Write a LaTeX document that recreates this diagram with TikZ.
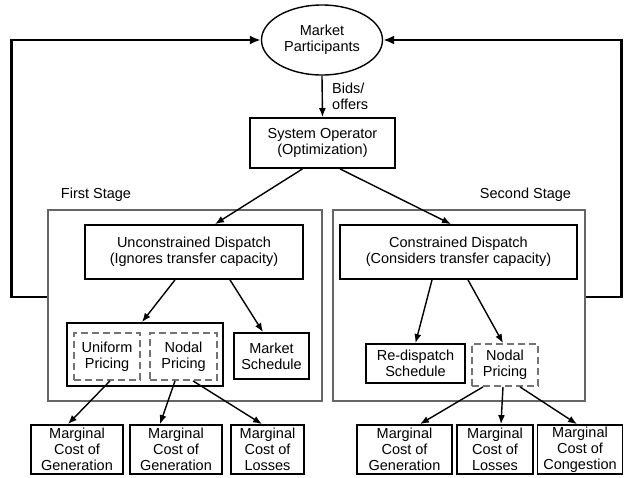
\documentclass[tikz,border=0pt]{standalone}
\usepackage{fontspec}
\setmainfont{Liberation Sans}
\usetikzlibrary{shapes.geometric, arrows.meta}

\begin{document}
\begin{tikzpicture}[x=1pt, y=-1pt,
  every node/.style={font=\fontsize{14.5}{16}\selectfont, align=center, inner sep=0pt},
  blk/.style={draw, line width=1.8pt},
  dsh/.style={draw=black!55, line width=1.8pt, dash pattern=on 7pt off 4pt},
  stagebox/.style={draw=black!60, line width=1.4pt},
  arr/.style={-{Latex[length=9pt,width=7pt]}, line width=1.4pt},
  fb/.style={-{Latex[length=11pt,width=9pt]}, line width=2.6pt}]
\useasboundingbox (0,0) rectangle (624,477);
% stages
\node[stagebox, minimum width=274, minimum height=191] (fs) at (185,305.5) {};
\node[stagebox, minimum width=252, minimum height=191] (ss) at (459,305.5) {};
\node (fslab) at (96,195) {First Stage};
\node (sslab) at (525.5,195) {Second Stage};
% top
\node[ellipse, draw, line width=1.4pt, minimum width=121, minimum height=70] (mp) at (322,40) {Market\\Participants};
\node[blk, minimum width=145, minimum height=50] (so) at (322.5,143) {System Operator\\(Optimization)};
\node[anchor=west, align=left] (bids) at (332,96.5) {Bids/\\offers};
% dispatch
\node[blk, minimum width=218, minimum height=54] (ud) at (194,252) {Unconstrained Dispatch\\(Ignores transfer capacity)};
\node[blk, minimum width=237, minimum height=54] (cd) at (458.5,252) {Constrained Dispatch\\(Considers transfer capacity)};
% pricing and schedules
\node[blk, minimum width=156, minimum height=63] (pb) at (145,354.5) {};
\node[dsh, minimum width=66, minimum height=47] (up) at (107,356.5) {Uniform\\Pricing};
\node[dsh, minimum width=67, minimum height=47] (np1) at (183.5,356.5) {Nodal\\Pricing};
\node[blk, minimum width=75, minimum height=46] (ms) at (271.5,356) {Market\\Schedule};
\node[blk, minimum width=99, minimum height=39] (rs) at (415.5,363.5) {Re-dispatch\\Schedule};
\node[dsh, minimum width=66, minimum height=42] (np2) at (505,365) {Nodal\\Pricing};
% marginal costs
\node[blk, minimum width=92, minimum height=49] (mc1) at (77,449.5) {Marginal\\Cost of\\Generation};
\node[blk, minimum width=92, minimum height=49] (mc2) at (176,449.5) {Marginal\\Cost of\\Generation};
\node[blk, minimum width=73, minimum height=49] (mc3) at (267.5,449.5) {Marginal\\Cost of\\Losses};
\node[blk, minimum width=95, minimum height=49] (mc4) at (404.5,449.5) {Marginal\\Cost of\\Generation};
\node[blk, minimum width=76, minimum height=49] (mc5) at (495,449.5) {Marginal\\Cost of\\Losses};
\node[blk, minimum width=85, minimum height=49] (mc6) at (580,449.5) {Marginal\\Cost of\\Congestion};
% arrows
\draw[arr] (mp.south) -- (so.north);
\draw[arr] ([xshift=-20pt]so.south) -- ([xshift=21pt]ud.north);
\draw[arr] ([xshift=17.5pt]so.south) -- ([xshift=-7.5pt]cd.north);
\draw[arr] ([xshift=-19pt]ud.south) -- ([xshift=-3pt]pb.north);
\draw[arr] ([xshift=36pt]ud.south) -- ([xshift=-8.5pt]ms.north);
\draw[arr] ([xshift=3pt]up.south) -- ([xshift=-9pt]mc1.north);
\draw[arr] ([xshift=-8.5pt]np1.south) -- ([xshift=-16pt]mc2.north);
\draw[arr] ([xshift=9.5pt]np1.south) -- ([xshift=-5.5pt]mc3.north);
\draw[arr] ([xshift=-26.5pt]cd.south) -- (rs.north);
\draw[arr] ([xshift=9.5pt]cd.south) -- ([xshift=-2pt]np2.north);
\draw[arr] ([xshift=-22pt]np2.south) -- ([xshift=15.5pt]mc4.north);
\draw[arr] ([xshift=-2pt]np2.south) -- ([xshift=6pt]mc5.north);
\draw[arr] ([xshift=15pt]np2.south) -- ([xshift=-3pt]mc6.north);
% feedback
\draw[fb] ([yshift=8.5pt]fs.west) -- ++(-36,0) |- (mp.west);
\draw[fb] ([yshift=8.5pt]ss.east) -- ++(36,0) |- (mp.east);
\end{tikzpicture}
\end{document}
